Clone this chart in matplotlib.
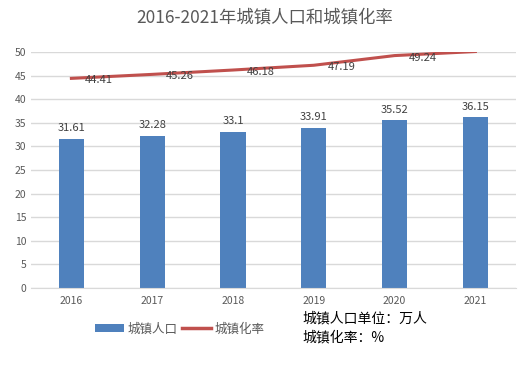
import matplotlib.pyplot as plt
from matplotlib.lines import Line2D
from matplotlib.patches import Patch

plt.rcParams['font.family'] = ['Noto Sans CJK SC', 'DejaVu Sans']

years = ['2016', '2017', '2018', '2019', '2020', '2021']
population = [31.61, 32.28, 33.1, 33.91, 35.52, 36.15]
urban_rate = [44.41, 45.26, 46.18, 47.19, 49.24, 50.1]

bar_color = '#4F81BD'
line_color = '#C0504D'
text_gray = '#595959'

fig = plt.figure(figsize=(5.29, 3.73), dpi=100)
ax = fig.add_axes([0.0586, 0.2279, 0.9164, 0.6327])

x = list(range(len(years)))
ax.bar(x, population, width=0.31, color=bar_color, zorder=2)
ax.plot(x, urban_rate, color=line_color, linewidth=2.2, zorder=3)

for xi, v in zip(x, population):
    ax.annotate(f'{v:g}', (xi, v), xytext=(0, 4), textcoords='offset points',
                ha='center', va='bottom', fontsize=8, color='#404040')
for xi, v in zip(x, urban_rate):
    if v >= 50:
        continue
    ax.annotate(f'{v:g}', (xi, v), xytext=(10, -1.5), textcoords='offset points',
                ha='left', va='center', fontsize=8, color='#404040', zorder=4)

ax.set_xlim(-0.5, len(years) - 0.5)
ax.set_ylim(0, 50)
ax.set_yticks(range(0, 51, 5))
ax.set_xticks(x)
ax.set_xticklabels(years)
ax.tick_params(axis='both', length=0, labelsize=7.5, colors=text_gray)
ax.tick_params(axis='x', pad=6)
ax.grid(axis='y', color='#D9D9D9', linewidth=1, zorder=0)
for s in ax.spines.values():
    s.set_visible(False)
ax.spines['bottom'].set_visible(True)
ax.spines['bottom'].set_color('#D9D9D9')

fig.text(0.5, 0.952, '2016-2021年城镇人口和城镇化率', ha='center', va='center',
         fontsize=12.5, color=text_gray)

handles = [Patch(facecolor=bar_color, label='城镇人口'),
           Line2D([], [], color=line_color, linewidth=2.5, label='城镇化率')]
fig.legend(handles=handles, loc='center', bbox_to_anchor=(0.34, 0.118), ncol=2,
           frameon=False, fontsize=9, labelcolor=text_gray, handlelength=2.3,
           handletextpad=0.3, columnspacing=0.4, handleheight=0.6)

fig.text(0.572, 0.147, '城镇人口单位：万人', ha='left', va='center', fontsize=10, color='black')
fig.text(0.572, 0.095, '城镇化率：%', ha='left', va='center', fontsize=10, color='black')

fig.savefig('out.png', dpi=100)
